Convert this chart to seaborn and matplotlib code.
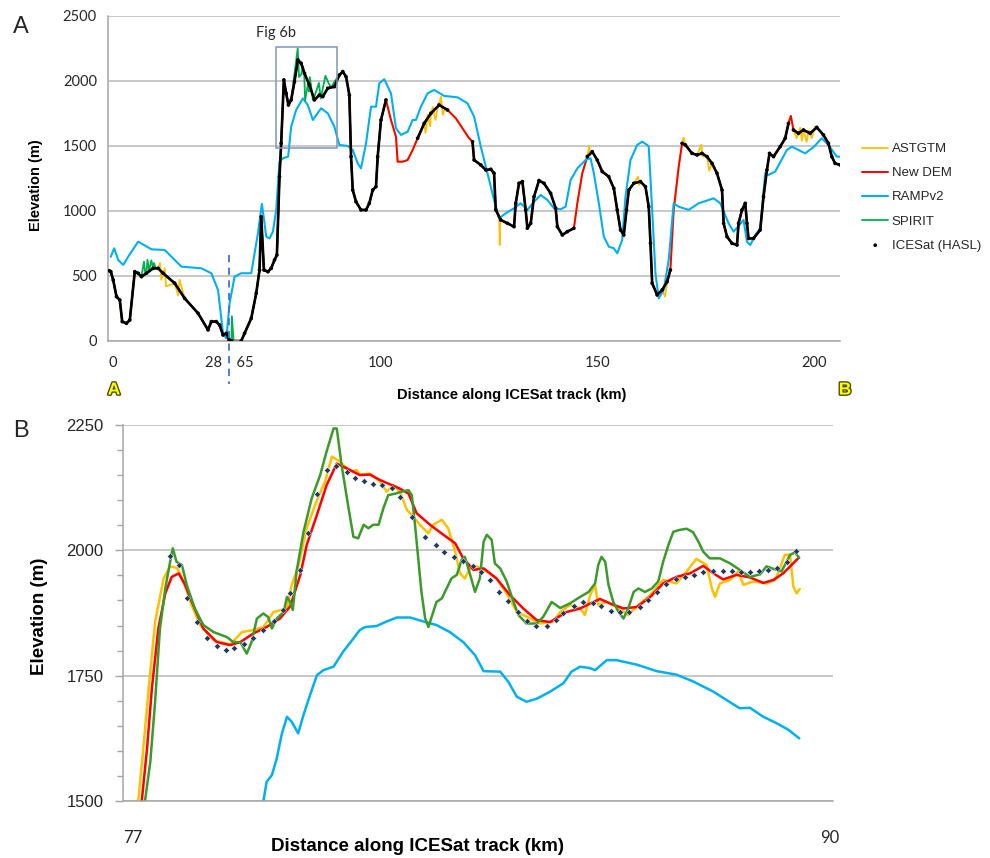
import numpy as np
import pandas as pd
import seaborn as sns
import matplotlib
matplotlib.use("Agg")
import matplotlib.pyplot as plt
import matplotlib.patheffects as pe
from matplotlib.patches import Rectangle
from matplotlib.ticker import MultipleLocator

# ---------------- Panel A : whole track (km along track, elevation m) ----------------
a_km = [0.3, 0.65, 1.2, 1.96, 2.72, 3.28, 4.27, 5.03, 6.18, 6.96,
        7.72, 8.88, 10.42, 11.57, 12.72, 15.40, 17.70, 20.79, 23.09, 23.85,
        25.0, 25.76, 26.55, 27.31, 28.0,
        65.0, 65.5, 67.76, 68.53, 70.07, 71.22, 71.98, 72.37, 73.0, 73.92,
        74.68, 75.44, 75.99, 76.59, 76.98, 77.60, 78.13, 78.66, 79.29, 80.05,
        80.83, 81.59, 82.35, 83.50, 84.65, 85.81, 86.59, 87.74, 89.26, 90.41,
        91.20, 91.96, 92.72, 93.11, 93.50, 94.26, 95.41, 96.57, 97.33, 98.11,
        98.87, 99.26, 100.02, 101.17, 102.33, 103.48, 103.87, 105.02, 106.18, 107.33,
        108.48, 110.0, 111.54, 113.46, 115.39, 117.30, 118.85, 120.37, 121.15, 121.52,
        123.06, 124.22, 125.37, 126.13, 126.52, 127.67, 129.22, 130.74, 131.13, 131.89,
        132.67, 133.43, 133.82, 134.59, 135.35, 136.50, 137.65, 139.19, 140.35, 140.74,
        141.89, 143.04, 144.56, 145.35, 146.50, 147.65, 148.80, 149.95, 151.10, 152.60,
        153.78, 154.56, 155.32, 156.08, 156.71, 157.24, 158.39, 159.93, 161.08, 161.84,
        162.24, 162.63, 163.78, 164.93, 166.08, 166.84, 167.60, 168.76, 169.54, 170.30,
        171.84, 172.99, 174.15, 175.30, 176.45, 177.60, 178.76, 179.13, 179.91, 181.06,
        182.21, 182.58, 183.36, 184.12, 184.52, 184.88, 186.04, 187.58, 188.34, 189.12,
        189.72, 190.65, 192.19, 193.34, 194.10, 194.65, 195.25, 196.40, 197.56, 199.10,
        200.64, 202.17, 203.32, 204.10, 204.86, 206.01]
a_dem = [540, 533, 469, 341, 315, 149, 136, 161, 533, 521,
         495, 521, 559, 559, 521, 444, 328, 213, 85, 149,
         149, 123, 46, 59, 8,
         5, 0, 0, 59, 174, 367, 546, 956, 546, 533,
         559, 623, 661, 1264, 1520, 2008, 1905, 1815, 1854, 1995,
         2162, 2136, 2059, 1969, 1854, 1892, 1880, 1944, 1956, 2046,
         2072, 2033, 1892, 1418, 1161, 1071, 1008, 1008, 1059, 1161,
         1187, 1418, 1700, 1854, 1700, 1572, 1379, 1379, 1392, 1469,
         1559, 1674, 1751, 1815, 1777, 1713, 1636, 1559, 1533, 1392,
         1354, 1315, 1321, 1290, 1008, 931, 905, 879, 1059, 1213,
         1226, 1008, 867, 905, 1110, 1234, 1213, 1136, 1021, 879,
         815, 841, 867, 1059, 1290, 1418, 1456, 1392, 1303, 1264,
         1174, 1008, 854, 815, 1008, 1161, 1213, 1226, 1187, 1033,
         751, 444, 354, 392, 456, 546, 1008, 1341, 1520, 1508,
         1443, 1431, 1443, 1418, 1366, 1290, 1161, 905, 802, 751,
         738, 905, 1008, 1059, 905, 789, 789, 854, 1110, 1315,
         1443, 1418, 1495, 1559, 1674, 1731, 1623, 1597, 1623, 1597,
         1643, 1585, 1520, 1418, 1366, 1354]

# ASTGTM: same profile with its own spikes
ast_extra_km = [12.0, 12.3, 13.1, 13.4, 16.2, 16.5, 110.3, 110.8, 111.4, 112.0,
                112.6, 113.3, 113.85, 114.3, 114.8, 127.3, 127.45, 127.55, 148.1, 148.3,
                159.4, 159.6, 165.6, 169.9, 174.0, 174.3, 175.8, 196.0, 196.8, 197.2,
                198.3, 198.7, 199.5, 200.2]
ast_extra_m = [600, 470, 560, 420, 350, 470, 1600, 1740, 1650, 1800,
               1700, 1830, 1880, 1740, 1790, 960, 738, 950, 1500, 1430,
               1264, 1200, 341, 1565, 1510, 1420, 1310, 1560, 1640, 1540,
               1530, 1620, 1560, 1650]

# SPIRIT: covers the first part only, own values inside the Fig 6b box
spirit_end_km = 101.2
spirit_box_km = (79.9, 89.5)
spirit_extra_km = [8.3, 8.6, 9.1, 9.5, 10.0, 10.6, 11.0, 65.6, 66.0,
                   80.3, 80.8, 81.1, 81.6, 82.0, 82.3, 82.5, 83.2, 83.4, 83.6,
                   84.3, 84.8, 85.7, 86.1, 87.2, 87.9, 88.5, 89.3]
spirit_extra_m = [610, 520, 625, 540, 620, 600, 560, 190, 0,
                  2120, 2251, 2030, 2050, 2115, 2060, 1850, 1985, 1920, 2030,
                  1855, 1895, 1985, 1865, 2040, 1985, 1950, 1995]

# RAMPv2
r_km = [0.65, 1.43, 2.35, 3.51, 4.66, 6.96, 10.03, 13.09, 16.94, 21.55,
        23.85, 25.40, 26.55, 27.31, 65.07, 66.22, 67.76, 70.07, 71.61, 72.53,
        73.53, 74.29, 75.07, 75.83, 76.59, 77.37, 78.59, 79.29, 80.44, 81.98,
        83.13, 84.29, 86.20, 87.74, 89.26, 90.41, 92.35, 93.50, 94.65, 95.41,
        96.57, 97.72, 98.87, 99.63, 100.78, 102.33, 103.48, 104.63, 106.18, 107.33,
        108.09, 109.24, 110.78, 112.30, 114.61, 117.70, 120.0, 121.52, 123.06, 124.61,
        126.13, 127.28, 128.82, 130.74, 132.28, 133.82, 135.35, 136.89, 138.43, 139.95,
        141.50, 142.65, 143.80, 145.35, 147.26, 148.41, 149.17, 150.32, 151.47, 152.63,
        153.78, 154.56, 155.71, 156.47, 157.63, 159.17, 160.32, 161.47, 161.84, 162.63,
        163.39, 164.15, 165.30, 166.45, 167.60, 168.76, 171.06, 173.36, 176.82, 178.36,
        180.27, 181.43, 182.58, 183.73, 184.52, 185.28, 186.43, 187.58, 188.73, 189.49,
        191.04, 193.73, 194.88, 197.94, 199.86, 201.79, 203.32, 205.25, 206.01]
r_m = [648, 713, 623, 585, 648, 764, 705, 700, 572, 559,
       521, 392, 59, 20, 290, 495, 521, 521, 828, 1054,
       803, 789, 841, 1008, 1379, 1405, 1418, 1649, 1777, 1866,
       1815, 1700, 1790, 1751, 1649, 1508, 1500, 1469, 1366, 1328,
       1520, 1802, 1802, 1982, 2013, 1905, 1636, 1585, 1610, 1700,
       1700, 1802, 1905, 1931, 1885, 1874, 1828, 1726, 1495, 1290,
       1085, 943, 982, 1021, 1059, 1008, 1071, 1123, 1085, 1021,
       1013, 1033, 1238, 1328, 1392, 1405, 1290, 1059, 802, 725,
       713, 674, 777, 1110, 1392, 1508, 1533, 1508, 1495, 1008,
       521, 328, 392, 623, 1059, 1033, 1008, 1059, 1097, 1059,
       905, 841, 885, 931, 764, 738, 815, 867, 1290, 1277,
       1303, 1469, 1495, 1443, 1490, 1559, 1508, 1418, 1418]

# stretches of the track without ICESat returns
ice_gaps = [(102.2, 108.0), (115.6, 121.0), (144.7, 147.4), (167.2, 169.3), (194.3, 195.1)]

break_lo, break_hi = 28, 65
a_ticks_km = [0, 28, 65, 100, 150, 200]
box_km = (75.7, 89.9)
box_m = (1485, 2260)

# ---------------- Panel B : zoom 77-90 km ----------------
b_dem_km = [77.12, 77.16, 77.26, 77.35, 77.47, 77.60, 77.72, 77.85, 77.97, 78.12,
            78.31, 78.56, 78.81, 79.00, 79.24, 79.49, 79.74, 79.93, 80.12, 80.24,
            80.43, 80.61, 80.80, 81.05, 81.23, 81.42, 81.61, 81.98, 82.14, 82.29,
            82.54, 82.79, 83.01, 83.16, 83.35, 83.54, 83.78, 84.03, 84.28, 84.53,
            84.78, 85.09, 85.34, 85.53, 85.71, 85.90, 86.15, 86.40, 86.65, 86.89,
            87.14, 87.39, 87.64, 87.83, 88.01, 88.26, 88.51, 88.76, 88.95, 89.13, 89.41]
b_dem_m = [1440, 1499, 1605, 1725, 1844, 1914, 1947, 1954, 1931, 1891,
           1844, 1817, 1811, 1817, 1834, 1847, 1864, 1888, 1951, 2011,
           2071, 2130, 2173, 2160, 2150, 2151, 2140, 2123, 2113, 2074,
           2051, 2031, 2014, 1984, 1961, 1964, 1944, 1911, 1884, 1861,
           1857, 1877, 1884, 1894, 1903, 1894, 1884, 1887, 1907, 1934,
           1947, 1954, 1969, 1954, 1942, 1951, 1946, 1935, 1941, 1954, 1984]

b_ast_km = [77.06, 77.10, 77.19, 77.29, 77.41, 77.57, 77.69, 77.82, 77.94, 78.09,
            78.25, 78.50, 78.81, 79.03, 79.24, 79.43, 79.62, 79.87, 79.96, 80.08,
            80.24, 80.43, 80.58, 80.71, 80.86, 81.05, 81.17, 81.23, 81.42, 81.61,
            81.73, 81.86, 81.98, 82.11, 82.20, 82.35, 82.51, 82.60, 82.76, 82.88,
            83.01, 83.10, 83.19, 83.29, 83.41, 83.60, 83.78, 83.97, 84.16, 84.34,
            84.59, 84.84, 84.97, 85.15, 85.34, 85.43, 85.53, 85.62, 85.68, 85.84,
            86.02, 86.24, 86.43, 86.65, 86.89, 87.14, 87.33, 87.51, 87.70, 87.80,
            87.86, 87.95, 88.14, 88.29, 88.39, 88.57, 88.82, 88.98, 89.07, 89.16,
            89.26, 89.32, 89.38, 89.44]
b_ast_m = [1440, 1505, 1605, 1725, 1858, 1944, 1968, 1965, 1938, 1891,
           1851, 1821, 1812, 1837, 1841, 1847, 1877, 1884, 1931, 1968,
           2045, 2100, 2137, 2187, 2177, 2157, 2160, 2151, 2153, 2137,
           2117, 2130, 2117, 2080, 2071, 2051, 2034, 2051, 2061, 2044,
           1997, 1954, 1944, 1964, 1968, 1958, 1944, 1914, 1877, 1868,
           1854, 1858, 1877, 1891, 1884, 1871, 1911, 1931, 1891, 1897,
           1887, 1871, 1891, 1911, 1941, 1934, 1958, 1983, 1971, 1924,
           1907, 1934, 1941, 1958, 1931, 1938, 1934, 1941, 1964, 1991,
           1991, 1928, 1914, 1923]

b_spirit_km = [77.18, 77.22, 77.32, 77.41, 77.50, 77.60, 77.69, 77.74, 77.81, 77.91,
               78.00, 78.15, 78.31, 78.50, 78.75, 78.87, 79.00, 79.12, 79.21, 79.31,
               79.43, 79.52, 79.59, 79.68, 79.81, 79.87, 79.93, 79.98, 80.05, 80.18,
               80.33, 80.49, 80.61, 80.74, 80.80, 80.89, 81.02, 81.11, 81.20, 81.30,
               81.39, 81.48, 81.58, 81.67, 81.76, 81.89, 82.01, 82.14, 82.20, 82.26,
               82.32, 82.38, 82.45, 82.51, 82.60, 82.66, 82.76, 82.85, 82.94, 83.04,
               83.13, 83.19, 83.29, 83.38, 83.47, 83.54, 83.60, 83.69, 83.75, 83.85,
               83.97, 84.10, 84.19, 84.34, 84.53, 84.65, 84.81, 84.97, 85.15, 85.34,
               85.50, 85.62, 85.68, 85.74, 85.81, 85.87, 85.96, 86.06, 86.15, 86.24,
               86.34, 86.43, 86.55, 86.68, 86.80, 86.89, 86.99, 87.08, 87.21, 87.33,
               87.45, 87.55, 87.64, 87.76, 87.95, 88.14, 88.32, 88.51, 88.70, 88.82,
               88.95, 89.10, 89.26, 89.35, 89.43]
b_spirit_m = [1440, 1499, 1578, 1698, 1844, 1924, 1977, 2004, 1977, 1971,
              1931, 1884, 1851, 1837, 1827, 1817, 1817, 1794, 1817, 1864,
              1874, 1867, 1844, 1864, 1877, 1907, 1897, 1881, 1958, 2037,
              2103, 2150, 2197, 2243, 2243, 2170, 2084, 2027, 2024, 2051,
              2044, 2051, 2051, 2084, 2110, 2113, 2117, 2120, 2110, 2051,
              1984, 1917, 1864, 1847, 1877, 1897, 1904, 1924, 1944, 1951,
              1981, 1987, 1951, 1917, 1944, 2017, 2031, 2021, 1974, 1964,
              1938, 1897, 1871, 1854, 1854, 1867, 1897, 1885, 1894, 1907,
              1917, 1934, 1971, 1987, 1977, 1931, 1897, 1877, 1864, 1884,
              1917, 1924, 1917, 1924, 1938, 1977, 2011, 2037, 2041, 2043,
              2036, 2017, 1997, 1984, 1984, 1974, 1961, 1947, 1952, 1968,
              1963, 1958, 1991, 1996, 1985]

b_ramp_km = [79.40, 79.43, 79.49, 79.59, 79.68, 79.77, 79.87, 79.96, 80.08, 80.18,
             80.30, 80.43, 80.55, 80.74, 80.92, 81.11, 81.23, 81.33, 81.54, 81.73,
             81.92, 82.17, 82.42, 82.66, 82.91, 83.16, 83.38, 83.54, 83.85, 84.00,
             84.16, 84.34, 84.53, 84.78, 85.03, 85.18, 85.34, 85.53, 85.62, 85.84,
             86.02, 86.40, 86.77, 87.14, 87.46, 87.83, 88.08, 88.32, 88.51, 88.76,
             89.01, 89.23, 89.43]
b_ramp_m = [1440, 1499, 1538, 1552, 1585, 1632, 1668, 1658, 1635, 1672,
            1711, 1751, 1761, 1768, 1798, 1824, 1841, 1847, 1849, 1858,
            1866, 1866, 1858, 1851, 1837, 1817, 1791, 1759, 1758, 1738,
            1708, 1698, 1704, 1718, 1735, 1758, 1768, 1765, 1761, 1781,
            1781, 1772, 1759, 1752, 1738, 1718, 1701, 1685, 1686, 1668,
            1655, 1642, 1625]

b_ice_km = [77.69, 77.85, 78.00, 78.19, 78.38, 78.56, 78.74, 78.89, 79.06, 79.24,
            79.43, 79.62, 79.80, 79.93, 80.12, 80.27, 80.43, 80.61, 80.79, 80.99,
            81.14, 81.30, 81.47, 81.64, 81.83, 81.98, 82.20, 82.45, 82.65, 82.81,
            82.98, 83.16, 83.34, 83.49, 83.66, 83.82, 84.00, 84.18, 84.35, 84.52,
            84.72, 84.89, 85.03, 85.23, 85.39, 85.58, 85.74, 85.91, 86.09, 86.26,
            86.45, 86.61, 86.78, 86.94, 87.13, 87.30, 87.47, 87.63, 87.82, 88.00,
            88.17, 88.34, 88.51, 88.68, 88.85, 89.01, 89.20, 89.37]
b_ice_m = [1989, 1970, 1904, 1858, 1825, 1809, 1802, 1806, 1814, 1825,
           1841, 1860, 1881, 1914, 1961, 2035, 2113, 2160, 2168, 2157,
           2145, 2138, 2133, 2130, 2125, 2107, 2066, 2026, 2011, 1996,
           1986, 1979, 1968, 1957, 1941, 1917, 1899, 1877, 1859, 1850,
           1849, 1861, 1874, 1889, 1897, 1895, 1889, 1879, 1877, 1876,
           1887, 1901, 1917, 1932, 1943, 1946, 1951, 1956, 1959, 1959,
           1958, 1956, 1956, 1958, 1960, 1964, 1976, 1999]

C_AST, C_DEM, C_RAMP, C_SPIRIT = "#FFC000", "#FF0000", "#00B0F0", "#00B050"
C_SPIRIT_B, C_ICE_B = "#3A9A2A", "#1F3864"
GRID = "#BFBFBF"


def to_u(km):
    # collapse the 28-65 km stretch that is left out of panel A
    km = np.asarray(km, float)
    return np.where(km <= break_lo, km, km - (break_hi - break_lo))


sns.set_theme(style="white")
plt.rcParams["font.family"] = ["Liberation Sans", "DejaVu Sans"]

fig = plt.figure(figsize=(9.9, 8.58), dpi=100)
axA = fig.add_axes([0.1091, 0.6026, 0.7394, 0.3788])
axB = fig.add_axes([0.1242, 0.0664, 0.7172, 0.4383])

# ---- panel A series ----
a_km_arr = np.array(a_km)
a_dem_arr = np.array(a_dem, float)

ast_km = np.concatenate([a_km_arr, ast_extra_km])
ast_m = np.concatenate([a_dem_arr, ast_extra_m])
o = np.argsort(ast_km, kind="stable")
sns.lineplot(x=to_u(ast_km[o]), y=ast_m[o], ax=axA, color=C_AST, lw=1.3,
             estimator=None, sort=False, label="ASTGTM")

sns.lineplot(x=to_u(a_km_arr), y=a_dem_arr, ax=axA, color=C_DEM, lw=1.4,
             estimator=None, sort=False, label="New DEM")

sns.lineplot(x=to_u(r_km), y=r_m, ax=axA, color=C_RAMP, lw=1.5,
             estimator=None, sort=False, label="RAMPv2")

keep = (a_km_arr <= spirit_end_km) & ~((a_km_arr > spirit_box_km[0]) & (a_km_arr < spirit_box_km[1]))
sp_km = np.concatenate([a_km_arr[keep], spirit_extra_km])
sp_m = np.concatenate([a_dem_arr[keep], spirit_extra_m])
o = np.argsort(sp_km, kind="stable")
sns.lineplot(x=to_u(sp_km[o]), y=sp_m[o], ax=axA, color=C_SPIRIT, lw=1.3,
             estimator=None, sort=False, label="SPIRIT")

in_gap = np.zeros(len(a_km_arr), bool)
for g0, g1 in ice_gaps:
    in_gap |= (a_km_arr > g0) & (a_km_arr < g1)
seg = np.cumsum(np.r_[0, np.diff(in_gap.astype(int)) != 0])
ice = pd.DataFrame({"u": to_u(a_km_arr), "m": a_dem_arr, "seg": seg})[~in_gap]
sns.lineplot(data=ice, x="u", y="m", units="seg", estimator=None, sort=False,
             ax=axA, color="black", lw=1.9, legend=False)
sns.scatterplot(data=ice, x="u", y="m", ax=axA, color="black", s=7,
                edgecolor="none", label="ICESat (HASL)", zorder=5)

# break marker and Fig 6b box
axA.plot([break_lo, break_lo], [660, -330], ls=(0, (4, 3)), color="#4472C4",
         lw=1.3, clip_on=False)
bx0, bx1 = to_u(box_km[0]), to_u(box_km[1])
axA.add_patch(Rectangle((bx0, box_m[0]), bx1 - bx0, box_m[1] - box_m[0],
                        fill=False, ec="#7F97B8", lw=1.1, zorder=6))
axA.text(bx0, 2370, "Fig 6b", ha="center", va="center", fontsize=10.5,
         family=["Lato", "DejaVu Sans"], color="#262626")

axA.set_xlim(0.35, 169.0)
axA.set_ylim(0, 2500)
axA.set_yticks(range(0, 2501, 500))
axA.set_xticks(to_u(a_ticks_km) + np.array([0, 0, 0.001, 0, 0, 0]))
xl = axA.set_xticklabels(["0", "28  ", "  65", "100", "150", "200"])
xl[0].set_ha("left")
xl[1].set_ha("right")
xl[2].set_ha("left")
axA.tick_params(axis="both", length=0, labelsize=10.5, labelcolor="#262626")
axA.tick_params(axis="x", pad=11)
axA.tick_params(axis="y", pad=8)
for lab in axA.get_xticklabels() + axA.get_yticklabels():
    lab.set_family(["Lato", "DejaVu Sans"])
axA.yaxis.grid(True, color=GRID, lw=1.2)
axA.set_axisbelow(True)
for s in ["top", "right"]:
    axA.spines[s].set_visible(False)
for s in ["left", "bottom"]:
    axA.spines[s].set_color("#A6A6A6")
    axA.spines[s].set_linewidth(1.1)

axA.set_xlabel("Distance along ICESat track (km)", fontsize=10.5,
               fontweight="bold", va="center", color="black")
axA.xaxis.set_label_coords(0.552, -0.166)
axA.set_ylabel("Elevation (m)", fontsize=10.5, fontweight="bold",
               va="center", color="black")
axA.yaxis.set_label_coords(-0.098, 0.48)

h, l = axA.get_legend_handles_labels()
order = ["ASTGTM", "New DEM", "RAMPv2", "SPIRIT", "ICESat (HASL)"]
hd = dict(zip(l, h))
axA.legend([hd[k] for k in order], order, loc="upper left",
           bbox_to_anchor=(862 / 990, 1 - 143 / 858), bbox_transform=fig.transFigure,
           frameon=False, fontsize=9.5, handlelength=2.0, handletextpad=0.25,
           labelspacing=0.9, borderpad=0, borderaxespad=0, markerscale=1.0)

# ---- panel B series ----
sns.lineplot(x=b_ast_km, y=b_ast_m, ax=axB, color=C_AST, lw=1.8,
             estimator=None, sort=False, legend=False)
sns.lineplot(x=b_dem_km, y=b_dem_m, ax=axB, color=C_DEM, lw=1.8,
             estimator=None, sort=False, legend=False)
sns.lineplot(x=b_ramp_km, y=b_ramp_m, ax=axB, color=C_RAMP, lw=1.8,
             estimator=None, sort=False, legend=False)
sns.lineplot(x=b_spirit_km, y=b_spirit_m, ax=axB, color=C_SPIRIT_B, lw=1.8,
             estimator=None, sort=False, legend=False)
sns.scatterplot(x=b_ice_km, y=b_ice_m, ax=axB, color=C_ICE_B, marker="D", s=10,
                edgecolor="white", linewidth=0.3, legend=False, zorder=5)

axB.set_xlim(76.81, 90.06)
axB.set_ylim(1500, 2250)
axB.set_yticks(range(1500, 2251, 250))
axB.yaxis.set_minor_locator(MultipleLocator(50))
axB.set_xticks([77, 90])
axB.tick_params(axis="x", length=0, labelsize=12, pad=21, labelcolor="#262626")
axB.tick_params(axis="y", which="major", left=True, length=6, width=1,
                color="#A6A6A6", labelsize=12, pad=8, labelcolor="#262626")
axB.tick_params(axis="y", which="minor", left=True, length=4, width=1, color="#A6A6A6")
for lab in axB.get_xticklabels():
    lab.set_family(["Lato", "DejaVu Sans"])
axB.yaxis.grid(True, which="major", color=GRID, lw=1.2)
axB.set_axisbelow(True)
for s in ["top", "right"]:
    axB.spines[s].set_visible(False)
for s in ["left", "bottom"]:
    axB.spines[s].set_color("#A6A6A6")
    axB.spines[s].set_linewidth(1.1)

axB.set_xlabel("Distance along ICESat track (km)", fontsize=13.5,
               fontweight="bold", va="center", color="black")
axB.xaxis.set_label_coords(0.415, -0.122)
axB.set_ylabel("Elevation (m)", fontsize=13.5, fontweight="bold",
               va="center", color="black")
axB.yaxis.set_label_coords(-0.117, 0.492)

# panel letters and track end markers
fig.text(21 / 990, 1 - 27 / 858, "A", fontsize=17, ha="center", va="center")
fig.text(21 / 990, 1 - 431 / 858, "B", fontsize=17, ha="center", va="center")
for xp, t in [(114, "A"), (845, "B")]:
    fig.text(xp / 990, 1 - 390 / 858, t, fontsize=12.5, fontweight="bold",
             color="#FFFF00", ha="center", va="center",
             path_effects=[pe.withStroke(linewidth=2, foreground="#4D4D00")])

fig.savefig("out.png", dpi=100)
